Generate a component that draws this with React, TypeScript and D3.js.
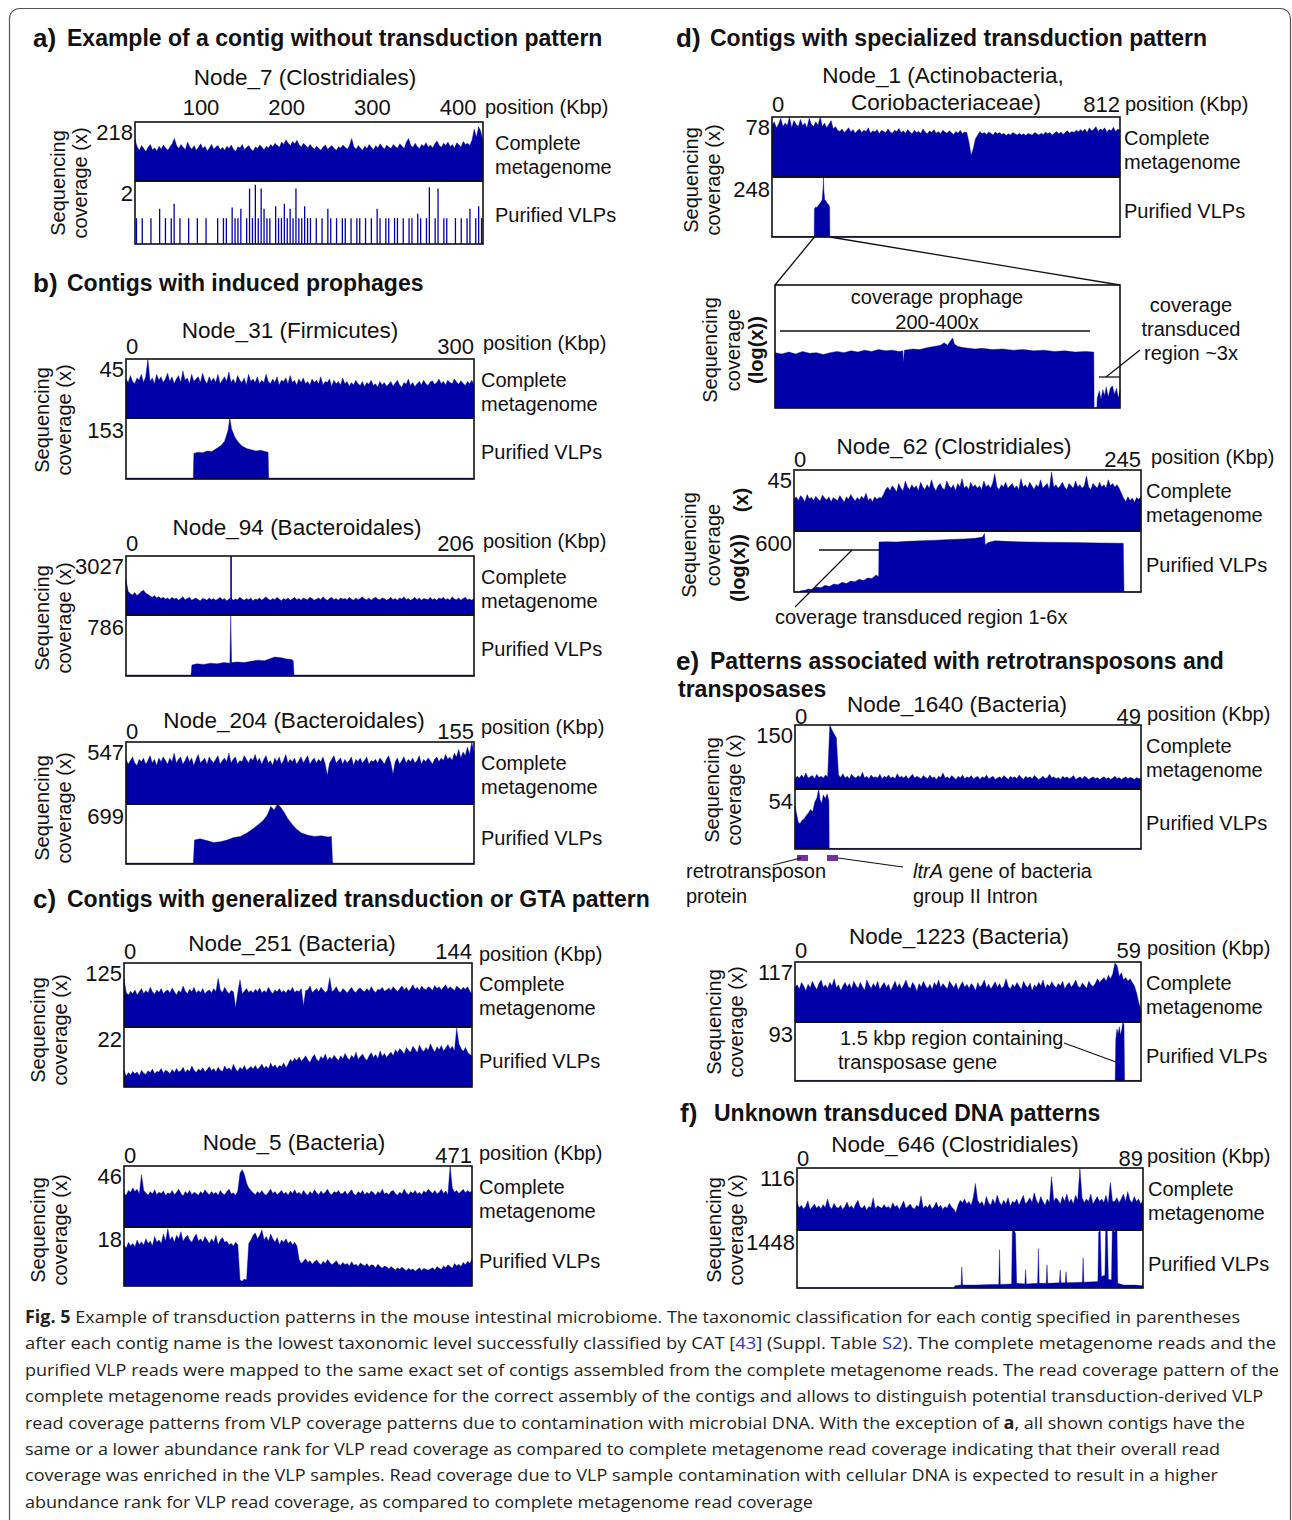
import React from "react";
import * as d3 from "d3";

type Pt = [number, number];

const BLUE = "#0000a8";
const SANS = "'Liberation Sans', Arial, Helvetica, sans-serif";

// ---------- coverage data (percent of each track's maximum) ----------
const node7Complete = [
  70,58,52,60,55,50,57,62,53,56,51,59,54,61,56,52,58,63,72,60,
  55,62,57,53,66,58,54,60,52,57,63,55,59,51,56,62,54,58,60,53,
  57,52,59,55,61,54,50,58,56,62,53,57,60,54,51,58,55,61,57,53,
  59,56,62,58,64,60,57,66,62,70,64,60,67,63,69,61,58,64,60,56,
  62,57,54,59,55,52,58,61,54,57,60,55,52,58,56,61,57,54,60,72,
  58,54,60,56,52,59,55,62,57,53,60,56,63,58,54,61,57,55,62,58,
  56,63,59,55,66,72,60,57,64,58,55,62,59,65,57,61,56,63,68,60,
  57,64,60,66,58,62,56,65,61,58,67,62,64,60,70,88,74,92,84,66];
const node7Vlp = [41,0,41,0,0,41,0,0,56,0, 41,0,41,64,0,41,0,0,41,0, 0,41,0,0,41,0,0,0,41,0, 41,41,0,58,41,41,56,0,41,88, 41,94,41,88,56,41,41,0,60,41, 41,64,41,56,41,88,41,41,60,41, 41,0,41,0,41,0,56,41,0,41, 0,41,41,0,41,0,41,41,0,41, 0,41,0,56,41,0,41,41,0,41, 41,0,41,0,41,41,0,48,41,0, 41,90,0,41,88,0,41,41,0,0, 41,0,41,0,41,56,0,41,60,41];

const node31Complete = [
  66,60,72,62,58,68,64,74,60,70,100,62,68,58,74,64,70,60,66,76,
  62,70,58,66,72,60,80,64,68,58,74,62,66,70,60,76,64,58,70,62,
  68,60,74,58,64,70,62,78,60,66,58,72,64,60,68,56,74,62,66,60,
  70,58,64,60,74,62,58,66,60,70,56,64,62,68,58,72,60,64,56,66,
  60,68,58,62,56,66,60,64,58,70,56,62,60,66,54,64,58,62,56,68,
  58,62,54,60,56,64,58,55,62,53,60,57,64,55,58,52,62,56,60,54,
  57,62,54,59,64,56,52,60,57,66,55,60,53,58,62,56,64,58,55,61,
  63,57,60,66,58,62,56,64,60,58,66,61,57,63,59,55,62,58,64,56];
const node31Vlp: Pt[] = [[0,1.5],[58,1.5],[58.5,42],[62,44],[66,43],[70,46],[74,45],[78,50],[82,55],[85,62],[88,80],[89.5,100],[91,82],[94,68],[97,60],[100,54],[104,50],[108,48],[112,46],[116,47],[120,45],[122.5,44],[123,1.5],[300,1.5]];

const node94Complete = [
  60,40,36,34,38,33,36,40,42,37,35,32,30,33,29,31,28,30,27,29,
  26,30,27,29,25,28,31,26,28,30,25,27,29,26,24,28,27,25,29,26,
  28,25,27,30,26,28,24,27,29,25,27,26,30,27,25,28,26,29,24,27,
  26,29,25,28,31,27,25,28,26,30,27,24,28,26,29,25,27,30,26,28,
  25,29,27,26,30,28,25,27,29,26,31,27,25,28,30,26,28,25,29,27,
  28,26,30,27,25,29,26,28,31,27,26,29,25,28,30,27,26,29,28,25,
  27,30,26,28,25,29,27,31,26,28,25,27,30,26,29,25,28,27,26,30,
  26,28,25,29,27,30,26,28,25,31,27,26,29,25,28,30,26,27,25,28];
const node94CompleteSpikes: Pt[] = [[62.2, 100]];
const node94Vlp: Pt[] = [[0,1.5],[38.5,1.5],[39,18],[42,20],[46,19],[50,21],[54,20],[58,22],[61.5,21],[62,100],[62.5,22],[66,23],[70,22],[74,24],[78,26],[82,25],[86,29],[88,31],[92,30],[95,28],[98,27],[99,25],[99.5,1.5],[206,1.5]];

const node204Complete = [
  72,64,70,76,66,62,72,68,74,64,70,78,66,72,62,74,68,76,70,64,
  74,68,82,66,72,76,64,70,78,68,74,62,72,80,66,70,74,64,76,70,
  66,72,78,64,70,74,68,82,66,72,76,64,70,68,78,72,66,74,70,80,
  68,74,64,72,78,66,70,62,74,68,76,64,70,80,66,72,68,74,64,70,
  76,66,72,78,64,70,74,66,72,68,76,64,46,66,72,78,66,70,74,64,
  72,66,70,76,62,72,68,74,66,70,76,64,70,68,72,66,74,70,64,72,
  78,66,48,68,74,64,70,76,66,72,68,74,66,70,78,64,72,68,74,70,
  64,72,76,68,74,70,80,72,76,70,82,76,88,74,84,78,92,80,100,82];
const node204Vlp: Pt[] = [[0,1.5],[30,1.5],[30.5,40],[33,42],[36,39],[39,36],[42,37],[45,40],[48,44],[51,46],[54,52],[57,60],[59,66],[61,72],[63,82],[64.5,96],[66,90],[67.5,100],[69,94],[70.5,86],[72,76],[74,66],[76,58],[78,52],[81,48],[84,46],[87,47],[90,45],[91.5,46],[92,1.5],[155,1.5]];

const node251Complete = [
  75,54,50,56,52,58,50,55,60,52,57,53,62,55,51,58,54,60,52,56,
  58,53,61,55,50,57,54,64,56,52,59,55,62,53,57,54,60,52,56,58,
  53,60,55,76,58,54,62,56,52,57,55,30,54,74,52,56,60,54,57,53,
  59,55,61,53,57,54,62,56,52,58,55,60,54,57,53,59,56,62,54,57,
  55,60,33,57,58,64,54,57,60,55,62,58,54,57,77,55,58,63,56,54,
  60,57,53,58,62,56,54,59,61,57,55,60,56,63,57,54,59,58,62,56,
  58,61,57,63,59,55,60,64,58,62,56,60,66,59,62,57,64,60,58,63,
  61,57,65,60,63,58,62,66,59,63,60,57,64,61,58,62,59,63,56,52];
const node251Vlp = [
  28,18,24,20,26,22,25,19,28,23,21,27,24,30,22,26,25,31,23,28,
  26,22,29,24,31,25,27,33,24,29,26,35,28,24,30,27,32,25,29,34,
  27,31,25,33,28,26,35,29,32,27,38,30,26,33,29,36,28,31,34,30,
  36,29,33,38,31,35,30,40,33,37,31,36,34,40,32,38,46,42,48,44,
  50,43,47,52,45,41,49,54,46,43,51,47,55,44,50,46,53,48,44,52,
  47,56,49,45,53,48,58,46,51,55,48,44,52,57,49,54,47,60,51,56,
  49,54,58,52,62,57,64,60,55,66,61,58,68,63,57,70,62,59,66,61,
  72,64,58,67,62,69,60,65,71,63,68,60,98,72,64,59,66,58,54,52];

const node5Complete = [
  55,52,60,57,64,58,62,54,86,60,56,52,58,54,61,53,57,55,59,52,
  56,54,60,53,57,62,55,51,58,54,60,53,57,55,52,58,54,61,56,53,
  58,54,57,52,60,55,53,58,62,54,56,52,59,88,94,86,72,64,60,56,
  53,58,55,60,54,52,57,62,55,58,53,56,60,54,57,52,59,55,61,54,
  57,53,60,55,52,58,54,61,56,53,59,54,57,62,55,53,58,56,60,54,
  55,59,53,57,61,54,52,58,55,60,53,57,54,59,56,52,58,55,62,54,
  56,53,58,60,55,52,57,54,62,56,53,58,55,60,54,57,53,59,56,62,
  58,55,60,54,57,62,55,59,53,100,64,57,60,55,58,62,56,60,57,59];
const node5Vlp = [
  70,64,74,68,72,66,78,70,75,69,80,72,76,68,84,74,78,72,88,76,
  97,78,84,74,86,80,92,76,82,86,78,74,82,88,76,80,74,84,78,72,
  80,74,86,70,78,82,74,76,70,72,68,74,70,10,8,12,10,72,78,86,
  90,80,86,95,78,84,76,88,80,74,82,70,78,74,80,72,76,70,74,68,
  45,38,42,46,40,43,37,41,44,39,36,42,38,45,40,36,39,43,37,35,
  40,36,38,34,41,35,37,33,39,36,34,38,32,36,35,31,37,33,30,34,
  32,29,33,30,27,31,28,32,29,26,30,27,29,25,28,31,26,30,28,27,
  29,31,27,33,30,28,34,31,36,33,30,38,34,37,33,40,36,42,38,46];

const node1Complete = [
  86,92,82,88,98,84,90,86,100,82,94,88,84,96,86,90,82,98,88,84,
  92,86,100,84,90,82,88,94,80,84,78,76,80,74,78,82,75,79,73,77,
  80,74,78,76,82,73,77,75,79,72,78,76,74,80,75,73,78,76,81,74,
  77,73,79,75,72,78,74,76,73,80,75,72,77,74,79,73,76,72,78,75,
  73,77,74,71,76,73,78,72,75,74,58,36,48,64,70,76,72,74,71,75,
  73,70,75,72,74,71,73,69,72,70,74,72,70,73,70,72,69,73,71,70,
  74,72,70,73,71,75,72,74,70,73,76,72,75,71,74,77,73,76,74,78,
  75,79,76,80,74,82,77,79,84,76,80,78,82,75,79,77,83,76,80,78];
const node1Vlp: Pt[] = [[0,1],[98.5,1],[99,47],[102,50],[105,49],[108,53],[111,55],[114,58],[117,62],[119,80],[120,100],[121,78],[123,62],[126,60],[129,56],[132,54],[134.5,50],[135,1],[812,1]];
const node1Zoom: Pt[] = [[0,45],[2,44],[4,45.5],[6,44],[8,46],[10,44.5],[12,45],[14,43.5],[16,45],[18,46],[20,45],[22,46.5],[24,45.5],[26,47],[28,46],[30,47.5],[32,46.5],[34,47],[36,46],[37,46.5],[37.2,37],[37.5,47],[40,48],[42,47.5],[44,49],[46,50],[48,51],[49,53],[50,51],[51,55],[51.5,57],[52,52],[53,50],[55,49],[58,48],[60,48.5],[63,47.5],[66,48],[69,47],[72,47.5],[75,46.5],[78,47],[81,46],[84,46.5],[87,45.5],[90,46],[92.4,45.5],[92.5,0],[93.3,0],[93.4,8],[94,14],[94.5,7],[95,15],[95.5,10],[96,17],[96.6,9],[97.2,16],[97.8,18],[98.4,11],[99,16],[99.5,8],[100,14]];

const node62Complete = [
  52,56,50,58,54,48,60,53,55,50,57,52,49,59,54,51,56,48,55,52,
  50,58,53,47,56,52,60,54,49,55,51,57,53,62,50,54,48,56,52,55,
  54,60,68,72,66,74,70,64,78,70,66,82,72,68,76,70,74,66,80,72,
  68,76,70,84,72,66,74,78,70,68,82,74,70,76,66,78,72,86,70,74,
  68,80,72,76,70,74,68,82,72,76,70,78,94,72,68,76,72,80,70,74,
  78,70,74,68,86,72,76,70,80,74,68,76,72,84,70,74,78,68,97,72,
  76,70,74,80,72,68,78,74,70,82,72,76,70,74,90,72,68,78,74,70,
  80,72,76,70,84,74,78,72,76,70,62,54,48,56,50,54,47,55,52,56];
const node62Vlp: Pt[] = [[0,0],[4,0],[4.5,2],[8,3],[10,5],[13,4],[16,8],[19,7],[22,11],[25,9],[28,13],[31,12],[34,16],[37,14],[40,18],[43,17],[46,21],[49,19],[52,23],[55,22],[58,28],[59.8,25],[60,82],[66,82.5],[72,82],[80,83],[90,84],[100,85],[110,86],[120,87],[128,88],[133,90],[134.5,96],[135,77],[137,81],[142,84],[150,83],[165,82],[180,81.5],[200,81],[215,80.5],[232.5,80],[233,0],[245,0]];

const node1640Complete = [
  16,20,17,22,18,25,17,19,21,16,23,18,20,17,22,19,100,92,86,80,
  22,18,24,17,20,16,23,19,17,21,18,26,17,20,16,22,18,19,17,23,
  16,20,18,22,17,19,16,24,18,20,17,21,16,19,23,17,20,18,16,21,
  18,16,22,17,19,15,20,18,25,17,19,16,21,18,15,20,17,22,16,19,
  17,21,16,18,20,15,19,17,22,16,18,20,15,17,19,16,21,18,15,20,
  17,19,16,22,18,15,20,17,19,16,21,18,15,17,20,16,18,23,17,19,
  16,18,15,20,17,19,16,18,21,15,17,19,16,20,18,15,17,19,16,18,
  15,17,19,16,18,15,17,20,16,18,15,17,19,16,18,17,15,18,16,17];
const node1640Vlp: Pt[] = [[0,0],[0.02,72],[0.2,60],[0.45,45],[0.7,42],[1.0,48],[1.3,50],[1.6,56],[1.9,60],[2.2,66],[2.5,62],[2.8,78],[3.1,85],[3.35,100],[3.55,82],[3.8,76],[4.0,90],[4.3,84],[4.55,92],[4.8,80],[4.85,1],[49,1]];
const node1640Genes: Pt[] = [[0.28,1.84],[4.53,6.09]];

const node1223Complete = [
  58,62,55,66,60,52,63,57,68,60,54,64,70,58,62,56,66,60,72,57,
  62,52,60,66,58,64,55,68,61,56,66,59,53,70,62,56,64,58,68,54,
  61,66,57,63,52,60,68,57,64,55,62,70,59,56,66,61,51,64,58,68,
  60,56,63,54,66,60,70,57,64,59,55,68,62,57,65,53,61,67,58,63,
  56,64,60,52,66,58,62,70,57,63,55,61,67,58,64,56,60,72,59,55,
  63,58,66,60,54,68,61,57,65,52,62,58,66,60,70,56,63,59,67,61,
  57,64,60,68,55,62,66,58,63,70,60,57,65,61,56,68,62,59,64,72,
  66,70,74,68,78,72,80,98,94,76,82,70,74,68,72,66,60,48,32,20];
const node1223Vlp: Pt[] = [[0,1],[54.6,1],[54.7,70],[54.9,88],[55.1,80],[55.3,92],[55.5,78],[55.7,86],[55.9,100],[56.1,95],[56.2,1],[59,1]];

const node646Complete = [
  44,36,40,34,38,47,33,37,42,35,39,34,41,36,50,38,34,43,37,35,
  40,33,38,45,36,39,34,42,48,37,35,40,32,38,36,52,34,39,37,35,
  41,36,38,34,44,37,40,33,39,47,35,38,42,36,34,40,37,55,35,39,
  36,42,34,38,45,36,40,33,38,35,43,37,34,28,40,48,44,50,42,46,
  40,52,75,48,42,46,38,54,44,40,50,42,56,45,40,48,42,52,38,46,
  44,50,40,48,56,42,46,52,44,60,48,42,54,46,40,50,44,86,46,52,
  48,42,54,46,58,44,50,42,56,48,100,52,44,50,46,58,42,48,54,46,
  50,44,56,42,77,46,46,52,44,50,58,46,62,48,44,54,46,50,42,48];
const node646Vlp: Pt[] = [[0,0],[40.5,0],[40.6,4],[42.2,5],[42.4,36],[42.6,5],[46,5],[50,6],[51.9,6],[52.1,66],[52.3,6],[55.2,7],[55.4,98],[55.8,100],[56.2,94],[56.5,8],[58.6,7],[58.8,32],[59,7],[61.9,8],[62.1,68],[62.3,8],[64.1,8],[64.3,40],[64.5,8],[67.5,9],[67.7,31],[67.9,9],[69,9],[69.2,28],[69.4,9],[73.4,10],[73.6,52],[73.8,10],[77.4,11],[77.6,96],[78,100],[78.3,20],[79.2,22],[79.4,98],[79.8,100],[80.1,15],[80.9,14],[81.1,100],[81.7,97],[82.3,100],[82.5,8],[84,5],[87,5],[89,4]];

// ---------- labels ----------
const sectionTitles = [
  { letter: "a)", text: "Example of a contig without transduction pattern", x: 33, y: 38 },
  { letter: "b)", text: "Contigs with induced prophages", x: 33, y: 283 },
  { letter: "c)", text: "Contigs with generalized transduction or GTA pattern", x: 33, y: 899 },
  { letter: "d)", text: "Contigs with specialized transduction pattern", x: 676, y: 38 },
  { letter: "e)", text: "Patterns associated with retrotransposons and", x: 676, y: 661 },
  { letter: "f)", text: "Unknown transduced DNA patterns", x: 680, y: 1113 },
];

type Seg = [string, string];
const captionLines: Seg[][] = [
  [["Fig. 5", "b"], [" Example of transduction patterns in the mouse intestinal microbiome. The taxonomic classification for each contig specified in parentheses", ""]],
  [["after each contig name is the lowest taxonomic level successfully classified by CAT [", ""], ["43", "l"], ["] (Suppl. Table ", ""], ["S2", "l"], ["). The complete metagenome reads and the", ""]],
  [["purified VLP reads were mapped to the same exact set of contigs assembled from the complete metagenome reads. The read coverage pattern of the", ""]],
  [["complete metagenome reads provides evidence for the correct assembly of the contigs and allows to distinguish potential transduction-derived VLP", ""]],
  [["read coverage patterns from VLP coverage patterns due to contamination with microbial DNA. With the exception of ", ""], ["a", "b"], [", all shown contigs have the", ""]],
  [["same or a lower abundance rank for VLP read coverage as compared to complete metagenome read coverage indicating that their overall read", ""]],
  [["coverage was enriched in the VLP samples. Read coverage due to VLP sample contamination with cellular DNA is expected to result in a higher", ""]],
  [["abundance rank for VLP read coverage, as compared to complete metagenome read coverage", ""]],
];
const captionEnds = [1240, 1276, 1279, 1263, 1245, 1220, 1218, 813];

interface Track { values?: number[]; points?: Pt[]; bars?: number[]; lines?: Pt[] }
interface YLab { x: number; y: number; t: string; bold?: boolean }
interface Panel {
  key: string; x: number; w: number; top: number; mid: number; bot: number;
  domain: [number, number]; ticks: number[]; tickY: number; posX: number; posY: number;
  titles: { x: number; y: number; t: string }[]; maxTop: string; maxBot: string; labelX: number;
  complete: Track; vlp: Track; ylab: YLab[];
}

const seqLab = (x1: number, x2: number, y: number): YLab[] => [
  { x: x1, y, t: "Sequencing" }, { x: x2, y, t: "coverage (x)" },
];

const panels: Panel[] = [
  { key: "a", x: 135, w: 348, top: 122, mid: 181, bot: 244, domain: [23, 429], ticks: [100, 200, 300, 400], tickY: 107, posX: 485, posY: 107,
    titles: [{ x: 305, y: 77, t: "Node_7 (Clostridiales)" }], maxTop: "218", maxBot: "2", labelX: 495,
    complete: { values: node7Complete }, vlp: { bars: node7Vlp }, ylab: seqLab(58, 80, 183) },
  { key: "b1", x: 126, w: 348, top: 359, mid: 418, bot: 479, domain: [0, 300], ticks: [0, 300], tickY: 346, posX: 483, posY: 343,
    titles: [{ x: 290, y: 330, t: "Node_31 (Firmicutes)" }], maxTop: "45", maxBot: "153", labelX: 481,
    complete: { values: node31Complete }, vlp: { points: node31Vlp }, ylab: seqLab(42, 64, 420) },
  { key: "b2", x: 126, w: 348, top: 556, mid: 615, bot: 676, domain: [0, 206], ticks: [0, 206], tickY: 543, posX: 483, posY: 541,
    titles: [{ x: 297, y: 527, t: "Node_94 (Bacteroidales)" }], maxTop: "3027", maxBot: "786", labelX: 481,
    complete: { values: node94Complete, lines: node94CompleteSpikes }, vlp: { points: node94Vlp }, ylab: seqLab(42, 64, 618) },
  { key: "b3", x: 126, w: 348, top: 742, mid: 804, bot: 864, domain: [0, 155], ticks: [0, 155], tickY: 731, posX: 481, posY: 727,
    titles: [{ x: 294, y: 720, t: "Node_204 (Bacteroidales)" }], maxTop: "547", maxBot: "699", labelX: 481,
    complete: { values: node204Complete }, vlp: { points: node204Vlp }, ylab: seqLab(42, 64, 808) },
  { key: "c1", x: 124, w: 348, top: 963, mid: 1027, bot: 1087, domain: [0, 144], ticks: [0, 144], tickY: 951, posX: 479, posY: 954,
    titles: [{ x: 292, y: 943, t: "Node_251 (Bacteria)" }], maxTop: "125", maxBot: "22", labelX: 479,
    complete: { values: node251Complete }, vlp: { values: node251Vlp }, ylab: seqLab(38, 60, 1030) },
  { key: "c2", x: 124, w: 348, top: 1166, mid: 1227, bot: 1286, domain: [0, 471], ticks: [0, 471], tickY: 1155, posX: 479, posY: 1153,
    titles: [{ x: 294, y: 1142, t: "Node_5 (Bacteria)" }], maxTop: "46", maxBot: "18", labelX: 479,
    complete: { values: node5Complete }, vlp: { values: node5Vlp }, ylab: seqLab(38, 60, 1230) },
  { key: "d1", x: 772, w: 348, top: 117, mid: 177, bot: 237, domain: [0, 812], ticks: [0, 812], tickY: 104, posX: 1125, posY: 104,
    titles: [{ x: 943, y: 75, t: "Node_1 (Actinobacteria," }, { x: 946, y: 102, t: "Coriobacteriaceae)" }], maxTop: "78", maxBot: "248", labelX: 1124,
    complete: { values: node1Complete }, vlp: { points: node1Vlp }, ylab: seqLab(691, 713, 180) },
  { key: "d2", x: 794, w: 347, top: 470, mid: 531, bot: 592, domain: [0, 245], ticks: [0, 245], tickY: 459, posX: 1151, posY: 457,
    titles: [{ x: 954, y: 446, t: "Node_62 (Clostridiales)" }], maxTop: "45", maxBot: "600", labelX: 1146,
    complete: { values: node62Complete }, vlp: { points: node62Vlp },
    ylab: [{ x: 689, y: 545, t: "Sequencing" }, { x: 713, y: 545, t: "coverage" }, { x: 741, y: 500, t: "(x)", bold: true }, { x: 738, y: 568, t: "(log(x))", bold: true }] },
  { key: "e1", x: 795, w: 346, top: 725, mid: 789, bot: 849, domain: [0, 49], ticks: [0, 49], tickY: 716, posX: 1147, posY: 714,
    titles: [{ x: 957, y: 704, t: "Node_1640 (Bacteria)" }], maxTop: "150", maxBot: "54", labelX: 1146,
    complete: { values: node1640Complete }, vlp: { points: node1640Vlp }, ylab: seqLab(712, 734, 790) },
  { key: "e2", x: 795, w: 346, top: 962, mid: 1022, bot: 1081, domain: [0, 59], ticks: [0, 59], tickY: 950, posX: 1147, posY: 948,
    titles: [{ x: 959, y: 936, t: "Node_1223 (Bacteria)" }], maxTop: "117", maxBot: "93", labelX: 1146,
    complete: { values: node1223Complete }, vlp: { points: node1223Vlp }, ylab: seqLab(714, 736, 1022) },
  { key: "f", x: 797, w: 346, top: 1168, mid: 1230, bot: 1288, domain: [0, 89], ticks: [0, 89], tickY: 1158, posX: 1147, posY: 1156,
    titles: [{ x: 955, y: 1144, t: "Node_646 (Clostridiales)" }], maxTop: "116", maxBot: "1448", labelX: 1148,
    complete: { values: node646Complete }, vlp: { points: node646Vlp }, ylab: seqLab(714, 736, 1230) },
];

function TrackMarks({ t, xs, yTop, yBot }: { t: Track; xs: d3.ScaleLinear<number, number>; yTop: number; yBot: number }) {
  const ys = d3.scaleLinear().domain([0, 100]).range([yBot, yTop]);
  const [d0, d1] = xs.domain();
  const out: React.ReactNode[] = [];
  let pts: Pt[] | null = null;
  if (t.values) {
    const n = t.values.length;
    pts = t.values.map((v, i) => [d0 + (i * (d1 - d0)) / (n - 1), v] as Pt);
  }
  if (t.points) pts = t.points;
  if (pts) {
    const area = d3.area<Pt>().x((d) => xs(d[0])).y0(yBot).y1((d) => ys(d[1]));
    out.push(<path key="area" d={area(pts) || ""} fill={BLUE} stroke={BLUE} strokeWidth={0.4} strokeLinejoin="miter" />);
  }
  if (t.bars) {
    const n = t.bars.length;
    t.bars.forEach((v, i) => {
      if (v <= 0) return;
      const x = xs(d0 + ((i + 0.5) * (d1 - d0)) / n);
      out.push(<line key={"b" + i} x1={x} x2={x} y1={yBot} y2={ys(v)} stroke={BLUE} strokeWidth={1.3} />);
    });
  }
  if (t.lines) {
    t.lines.forEach(([k, v], i) => {
      const x = xs(k);
      out.push(<line key={"l" + i} x1={x} x2={x} y1={yBot} y2={ys(v)} stroke={BLUE} strokeWidth={1.6} />);
    });
  }
  return <g>{out}</g>;
}

function PanelView({ p }: { p: Panel }) {
  const xs = d3.scaleLinear().domain(p.domain).range([p.x, p.x + p.w]);
  const right = p.x + p.w;
  return (
    <g fontFamily={SANS} fill="#111">
      {p.titles.map((t, i) => (
        <text key={i} x={t.x} y={t.y} dy="0.35em" textAnchor="middle" fontSize={22.5}>{t.t}</text>
      ))}
      {p.ticks.map((tk) => {
        const anchor = tk === p.domain[0] ? "start" : tk === p.domain[1] ? "end" : "middle";
        return (
          <text key={tk} x={xs(tk)} y={p.tickY} dy="0.35em" textAnchor={anchor} fontSize={22}>{tk}</text>
        );
      })}
      <text x={p.posX} y={p.posY} dy="0.35em" fontSize={20}>position (Kbp)</text>
      <TrackMarks t={p.complete} xs={xs} yTop={p.top} yBot={p.mid} />
      <TrackMarks t={p.vlp} xs={xs} yTop={p.mid} yBot={p.bot} />
      <rect x={p.x} y={p.top} width={p.w} height={p.bot - p.top} fill="none" stroke="#111" strokeWidth={1.6} />
      <line x1={p.x} x2={right} y1={p.mid} y2={p.mid} stroke="#111" strokeWidth={2} />
      <text x={p.x - 2} y={p.top + 10} dy="0.35em" textAnchor="end" fontSize={22}>{p.maxTop}</text>
      <text x={p.x - 2} y={p.mid + 12} dy="0.35em" textAnchor="end" fontSize={22}>{p.maxBot}</text>
      <text x={p.labelX} y={p.top + 21} dy="0.35em" fontSize={20}>Complete</text>
      <text x={p.labelX} y={p.top + 45} dy="0.35em" fontSize={20}>metagenome</text>
      <text x={p.labelX} y={p.mid + 34} dy="0.35em" fontSize={20}>Purified VLPs</text>
      {p.ylab.map((l, i) => (
        <text key={i} transform={`translate(${l.x},${l.y}) rotate(-90)`} dy="0.35em" textAnchor="middle" fontSize={20} fontWeight={l.bold ? "bold" : "normal"}>{l.t}</text>
      ))}
    </g>
  );
}

export default function App() {
  const d1 = panels.find((p) => p.key === "d1")!;
  const d1x = d3.scaleLinear().domain(d1.domain).range([d1.x, d1.x + d1.w]);
  const zoomBox = { x: 775, y: 285, w: 345, h: 123 };
  const zx = d3.scaleLinear().domain([0, 100]).range([zoomBox.x, zoomBox.x + zoomBox.w]);
  const e1 = panels.find((p) => p.key === "e1")!;
  const e1x = d3.scaleLinear().domain(e1.domain).range([e1.x, e1.x + e1.w]);

  return (
    <svg width={1292} height={1520} style={{ position: "absolute", left: 0, top: 0, background: "#fff" }} fontFamily={SANS}>
      <rect x={0} y={0} width={1292} height={1520} fill="#fff" />
      <rect x={9.5} y={8.5} width={1281} height={1540} rx={10} fill="none" stroke="#555" strokeWidth={1.2} />

      {sectionTitles.map((s) => (
        <g key={s.letter} fill="#111">
          <text x={s.x} y={s.y} dy="0.35em" fontSize={26} fontWeight="bold">{s.letter}</text>
          <text x={s.x + 34} y={s.y} dy="0.35em" fontSize={23} fontWeight="bold">{s.text}</text>
        </g>
      ))}
      <text x={678} y={689} dy="0.35em" fontSize={23} fontWeight="bold" fill="#111">transposases</text>

      {panels.map((p) => <PanelView key={p.key} p={p} />)}

      {/* zoom of Node_1 prophage region */}
      <line x1={d1x(99)} y1={d1.bot} x2={zoomBox.x} y2={zoomBox.y} stroke="#111" strokeWidth={1.3} />
      <line x1={d1x(135)} y1={d1.bot} x2={zoomBox.x + zoomBox.w} y2={zoomBox.y} stroke="#111" strokeWidth={1.3} />
      <TrackMarks t={{ points: node1Zoom }} xs={zx} yTop={zoomBox.y} yBot={zoomBox.y + zoomBox.h} />
      <rect x={zoomBox.x} y={zoomBox.y} width={zoomBox.w} height={zoomBox.h} fill="none" stroke="#111" strokeWidth={1.6} />
      <g fill="#111" fontSize={20}>
        <text x={937} y={297} dy="0.35em" textAnchor="middle">coverage prophage</text>
        <text x={937} y={322} dy="0.35em" textAnchor="middle">200-400x</text>
        <line x1={780} x2={1090} y1={331} y2={331} stroke="#111" strokeWidth={1.3} />
        <text x={1191} y={305} dy="0.35em" textAnchor="middle">coverage</text>
        <text x={1191} y={329} dy="0.35em" textAnchor="middle">transduced</text>
        <text x={1191} y={353} dy="0.35em" textAnchor="middle">region ~3x</text>
        <line x1={1099} x2={1120} y1={377} y2={377} stroke="#111" strokeWidth={1.3} />
        <line x1={1106} x2={1140} y1={377} y2={350} stroke="#111" strokeWidth={1.3} />
        <text transform="translate(710,350) rotate(-90)" dy="0.35em" textAnchor="middle">Sequencing</text>
        <text transform="translate(733,350) rotate(-90)" dy="0.35em" textAnchor="middle">coverage</text>
        <text transform="translate(756,350) rotate(-90)" dy="0.35em" textAnchor="middle" fontWeight="bold">(log(x))</text>
      </g>

      {/* Node_62 annotation */}
      <g fill="#111" fontSize={20}>
        <line x1={819} x2={880} y1={550} y2={550} stroke="#111" strokeWidth={1.3} />
        <line x1={852} x2={795} y1={550} y2={607} stroke="#111" strokeWidth={1.3} />
        <text x={775} y={617} dy="0.35em">coverage transduced region 1-6x</text>
      </g>

      {/* Node_1640 gene annotations */}
      {node1640Genes.map(([a, b], i) => (
        <rect key={i} x={e1x(a)} y={855} width={e1x(b) - e1x(a)} height={6} fill="#7030a0" />
      ))}
      <g fill="#111" fontSize={20}>
        <line x1={e1x(node1640Genes[0][0]) + 4} y1={858} x2={773} y2={865} stroke="#111" strokeWidth={1.2} />
        <line x1={e1x(node1640Genes[1][1])} y1={858} x2={903} y2={867} stroke="#111" strokeWidth={1.2} />
        <text x={686} y={871} dy="0.35em">retrotransposon</text>
        <text x={686} y={896} dy="0.35em">protein</text>
        <text x={913} y={871} dy="0.35em"><tspan fontStyle="italic">ltrA</tspan> gene of bacteria</text>
        <text x={913} y={896} dy="0.35em">group II Intron</text>
      </g>

      {/* Node_1223 annotation */}
      <g fill="#111" fontSize={20}>
        <text x={840} y={1038} dy="0.35em">1.5 kbp region containing</text>
        <text x={838} y={1062} dy="0.35em">transposase gene</text>
        <line x1={1064} y1={1043} x2={1116} y2={1062} stroke="#111" strokeWidth={1.2} />
      </g>

      {/* caption */}
      <g fontFamily="'Open Sans', 'Noto Sans', sans-serif" fontSize={17} fill="#231f20">
        {captionLines.map((segs, i) => (
          <text key={i} x={25} y={1317 + i * 26.4} dy="0.35em" textLength={captionEnds[i] - 25} lengthAdjust="spacingAndGlyphs">
            {segs.map(([s, st], j) => (
              <tspan key={j} fontWeight={st === "b" ? "bold" : "normal"} fill={st === "l" ? "#2a36c9" : "#231f20"}>{s}</tspan>
            ))}
          </text>
        ))}
      </g>
    </svg>
  );
}
